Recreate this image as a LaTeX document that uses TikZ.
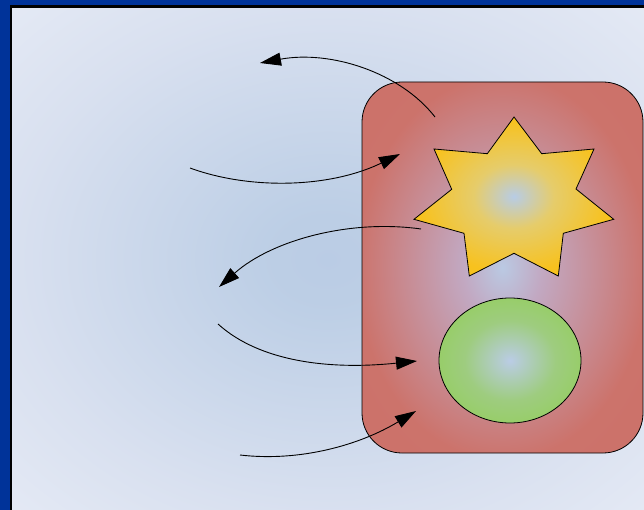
\documentclass[tikz,border=0pt]{standalone}
\usetikzlibrary{arrows.meta,shapes.geometric}
\pgfdeclareradialshading{bgsh}{\pgfpoint{0bp}{0bp}}{rgb(0bp)=(0.73,0.80,0.90);rgb(5bp)=(0.74,0.81,0.90);rgb(25bp)=(0.85,0.88,0.94);rgb(42bp)=(0.92,0.935,0.97);rgb(50bp)=(0.93,0.945,0.975)}
\pgfdeclareradialshading{redsh}{\pgfpoint{0bp}{0bp}}{rgb(0bp)=(0.73,0.79,0.89);rgb(7bp)=(0.76,0.66,0.76);rgb(26bp)=(0.80,0.45,0.42);rgb(50bp)=(0.80,0.44,0.40)}
\pgfdeclareradialshading{starsh}{\pgfpoint{0bp}{0bp}}{rgb(0bp)=(0.72,0.80,0.90);rgb(10bp)=(0.90,0.80,0.42);rgb(24bp)=(0.97,0.76,0.12);rgb(50bp)=(0.98,0.75,0.05)}
\pgfdeclareradialshading{greensh}{\pgfpoint{0bp}{0bp}}{rgb(0bp)=(0.73,0.80,0.90);rgb(16bp)=(0.62,0.80,0.50);rgb(34bp)=(0.57,0.81,0.33);rgb(50bp)=(0.56,0.81,0.31)}
\definecolor{framebl}{RGB}{0,51,153}
\tikzset{
  conn/.style={line width=0.9pt,-{Triangle[length=21pt,width=13pt]}},
  shapeline/.style={draw=black,line width=0.8pt}
}
\begin{document}
\begin{tikzpicture}[x=1pt,y=-1pt]
\useasboundingbox (0,0) rectangle (644,510);
\fill[framebl] (0,0) rectangle (644,510);
\fill[black] (9.5,5) rectangle (644,510);
\shade[shading=bgsh] (12,8.5) rectangle (644,510);
\node[shapeline,rectangle,rounded corners=40pt,minimum width=281pt,minimum height=371pt,inner sep=0pt,shading=redsh] (box) at (502.5,267.5) {};
\path[shapeline,shading=starsh] (514,117) -- (541.7,153.7) -- (594,149) -- (576,189) -- (613.7,219.3) -- (563.3,233.3) -- (558.3,276) -- (514,253.3) -- (469.3,276) -- (464,233.3) -- (414,219.3) -- (451.7,189.3) -- (434,149) -- (487.3,153.7) -- cycle;
\node[shapeline,ellipse,minimum width=142pt,minimum height=125pt,inner sep=0pt,shading=greensh] (oval) at (510,360.5) {};
\coordinate (a1s) at (435,117); \coordinate (a1e) at (260,63);
\coordinate (a2s) at (190,168); \coordinate (a2e) at (400,154);
\coordinate (a3s) at (421,229); \coordinate (a3e) at (219,287);
\coordinate (a4s) at (218,324); \coordinate (a4e) at (417,361);
\coordinate (a5s) at (240,455); \coordinate (a5e) at (416,411);
\draw[conn] (a1s) .. controls (400,72) and (330,50) .. (a1e);
\draw[conn] (a2s) .. controls (250,190) and (330,188) .. (a2e);
\draw[conn] (a3s) .. controls (350,219) and (272,240) .. (a3e);
\draw[conn] (a4s) .. controls (260,362) and (330,370) .. (a4e);
\draw[conn] (a5s) .. controls (300,462) and (360,445) .. (a5e);
\end{tikzpicture}
\end{document}
